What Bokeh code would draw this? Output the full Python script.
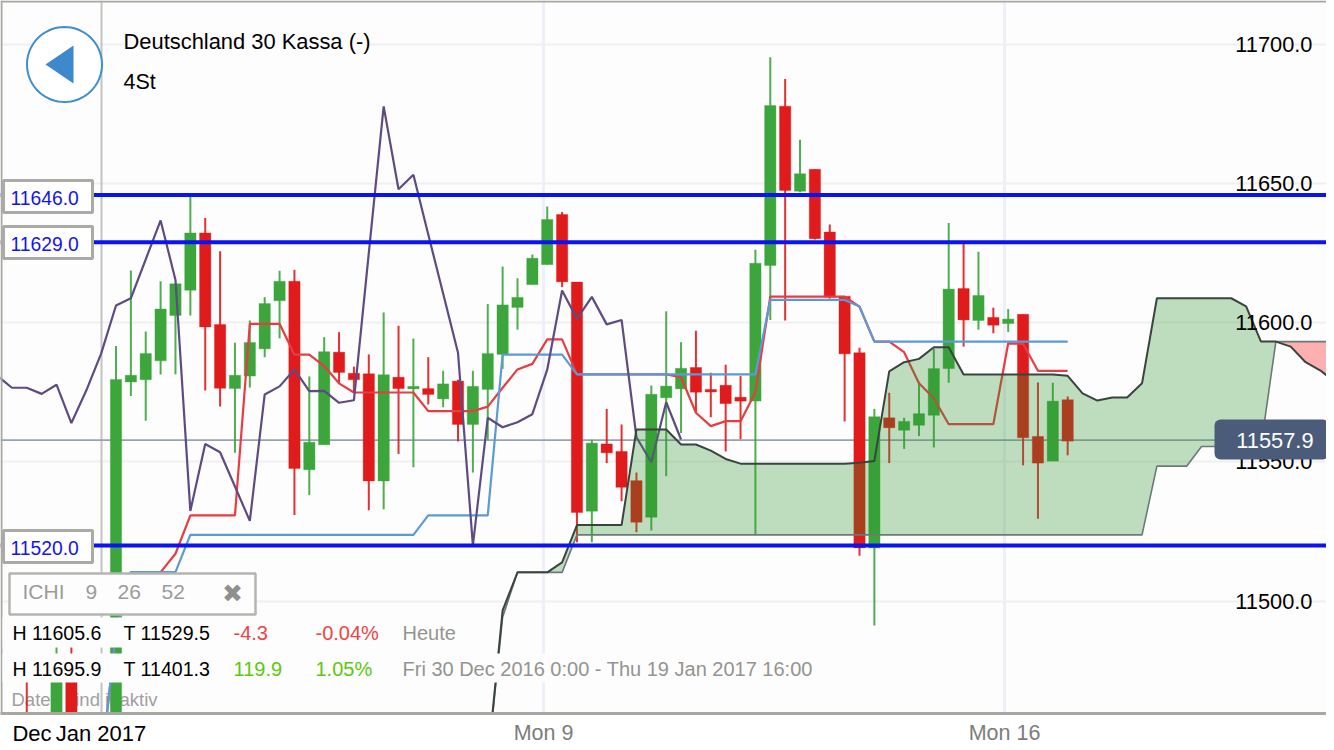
from bokeh.plotting import figure
from bokeh.embed import file_html
from bokeh.resources import INLINE
from bokeh.models import (ColumnDataSource, Range1d, LinearAxis, Grid, FixedTicker, Span, Label,
                          BoxAnnotation, PolyAnnotation, NumeralTickFormatter)
import math

FONT = "Liberation Sans"

# ---------- data (prices) ----------
candle_i = [-6, -4, -3] + list(range(0, 65))
open_ = [11449.8, 11442.6, 11474.3,
    11428.2, 11578.8, 11579.6, 11586.4, 11602.7, 11611.8, 11632.4, 11599.5, 11576.4, 11580.9,
    11590.7, 11608.0, 11615.0, 11547.2, 11556.2, 11589.5, 11581.9, 11581.7, 11543.2, 11580.5,
    11576.3, 11576.4, 11572.7, 11579.1, 11563.5, 11576.1, 11588.7, 11605.6, 11613.8, 11621.0,
    11639.0, 11614.7, 11532.3, 11556.5, 11553.8, 11543.3, 11530.1, 11573.1, 11576.3, 11584.0,
    11576.1, 11577.6, 11573.3, 11571.9, 11620.7, 11678.0, 11647.4, 11655.3, 11632.7, 11609.6,
    11589.3, 11519.1, 11565.9, 11561.4, 11563.2, 11566.8, 11583.6, 11612.4, 11600.9, 11602.0,
    11599.8, 11603.1, 11559.2, 11550.3, 11572.4]
high = [11476.8, 11489.4, 11489.4,
    11591.7, 11618.9, 11596.9, 11615.0, 11614.1, 11645.5, 11637.8, 11625.8, 11592.9, 11600.9,
    11609.3, 11618.8, 11619.1, 11580.8, 11594.9, 11596.7, 11584.3, 11588.7, 11603.8, 11599.0,
    11594.4, 11587.7, 11582.8, 11579.6, 11582.8, 11606.8, 11620.3, 11616.1, 11624.6, 11641.9,
    11639.9, 11614.7, 11558.0, 11569.1, 11563.5, 11546.2, 11577.5, 11604.2, 11593.1, 11597.2,
    11582.1, 11585.0, 11580.9, 11626.3, 11695.6, 11687.8, 11665.9, 11655.3, 11635.4, 11609.6,
    11591.1, 11569.1, 11574.9, 11565.9, 11578.7, 11590.7, 11636.0, 11628.8, 11625.6, 11605.5,
    11605.0, 11603.1, 11578.6, 11578.5, 11573.6]
low = [11435.4, 11439.0, 11437.2,
    11422.8, 11573.7, 11564.8, 11581.5, 11581.6, 11602.7, 11575.7, 11570.0, 11553.3, 11576.8,
    11587.7, 11594.5, 11530.9, 11538.1, 11556.2, 11578.2, 11575.1, 11532.6, 11533.0, 11552.9,
    11548.1, 11570.7, 11569.7, 11557.4, 11546.2, 11558.0, 11583.5, 11597.6, 11613.8, 11621.0,
    11612.9, 11521.1, 11521.1, 11549.6, 11535.9, 11524.7, 11525.4, 11544.9, 11560.4, 11567.9,
    11566.1, 11553.8, 11558.2, 11523.8, 11601.1, 11600.9, 11647.0, 11630.0, 11608.8, 11564.6,
    11516.3, 11491.2, 11549.6, 11554.7, 11559.3, 11555.2, 11578.5, 11591.5, 11597.6, 11596.3,
    11596.8, 11548.8, 11529.6, 11550.3, 11552.4]
close = [11442.6, 11475.0, 11440.8,
    11579.7, 11581.2, 11589.0, 11605.0, 11614.1, 11632.4, 11598.6, 11576.5, 11581.2, 11593.0,
    11607.0, 11615.0, 11547.7, 11557.1, 11589.7, 11582.2, 11579.6, 11543.2, 11581.4, 11576.4,
    11577.2, 11574.3, 11578.1, 11563.5, 11577.2, 11589.0, 11606.5, 11609.2, 11623.3, 11637.2,
    11614.8, 11531.8, 11556.8, 11553.3, 11540.9, 11528.3, 11574.4, 11577.3, 11583.7, 11575.1,
    11575.2, 11571.0, 11571.9, 11621.5, 11678.2, 11647.7, 11653.7, 11630.3, 11609.3, 11588.9,
    11519.1, 11566.3, 11562.3, 11564.6, 11567.4, 11583.6, 11612.2, 11601.1, 11609.9, 11599.2,
    11601.4, 11558.7, 11549.6, 11571.9, 11557.5]

chikou_i = list(range(-8, 39))
chikou = [11581.1, 11576.7, 11576.7, 11574.5, 11577.8, 11564.0, 11575.7, 11589.0, 11606.3, 11608.9,
    11622.9, 11636.9, 11615.5, 11532.4, 11556.5, 11553.5, 11541.2, 11528.8, 11574.3, 11577.2,
    11583.3, 11575.5, 11575.6, 11571.3, 11572.2, 11625.1, 11677.9, 11648.1, 11653.3, 11631.8,
    11610.6, 11589.3, 11520.0, 11565.9, 11562.5, 11564.3, 11567.2, 11583.2, 11611.7, 11601.5,
    11609.4, 11599.5, 11601.1, 11558.9, 11549.9, 11571.5, 11558.1]

line_i = list(range(-1, 65))
tenkan = [11440.8, 11488.7, 11510.4, 11510.4, 11510.4, 11517.0, 11530.8, 11530.8, 11530.8, 11530.8,
    11599.7, 11599.7, 11599.7, 11588.6, 11588.6, 11584.5, 11578.3, 11575.0, 11575.0, 11575.0,
    11575.0, 11575.0, 11568.3, 11568.3, 11568.3, 11568.3, 11569.9, 11576.7, 11583.3, 11585.3,
    11594.1, 11594.1, 11581.5, 11581.5, 11581.5, 11581.5, 11581.5, 11581.5, 11581.5, 11580.5,
    11567.7, 11562.9, 11564.7, 11564.7, 11575.1, 11609.5, 11609.5, 11609.5, 11609.5, 11609.5,
    11609.5, 11605.9, 11593.3, 11593.3, 11589.5, 11578.3, 11572.9, 11563.6, 11563.6, 11563.6,
    11563.6, 11592.7, 11592.5, 11582.8, 11582.8, 11582.8]
kijun = [11440.8, 11488.7, 11510.4, 11510.4, 11510.4, 11510.4, 11523.8, 11523.8, 11523.8, 11523.8,
    11523.8, 11523.8, 11523.8, 11523.8, 11523.8, 11523.8, 11523.8, 11523.8, 11523.8, 11523.8,
    11523.8, 11523.8, 11530.8, 11530.8, 11530.8, 11530.8, 11530.8, 11588.6, 11588.6, 11588.6,
    11588.6, 11588.6, 11581.5, 11581.5, 11581.5, 11581.5, 11581.5, 11581.5, 11581.5, 11581.5,
    11581.5, 11581.5, 11581.5, 11581.5, 11581.5, 11608.3, 11608.3, 11608.3, 11608.3, 11608.3,
    11608.3, 11605.9, 11593.3, 11593.3, 11593.3, 11593.3, 11593.3, 11593.3, 11593.3, 11593.3,
    11593.3, 11593.3, 11593.3, 11593.3, 11593.3, 11593.3]

senkou_i = list(range(25, 83))
senkou_a = [11442.3, 11496.6, 11510.3, 11510.3, 11510.3, 11513.9, 11527.3, 11527.3, 11527.3, 11527.3,
    11561.7, 11561.7, 11561.7, 11556.3, 11556.3, 11554.1, 11551.1, 11549.4, 11549.4, 11549.4,
    11549.4, 11549.4, 11549.4, 11549.4, 11549.4, 11549.7, 11550.4, 11582.6, 11585.9, 11587.1,
    11591.3, 11591.3, 11581.5, 11581.5, 11581.5, 11581.5, 11581.5, 11581.5, 11581.5, 11581.0,
    11574.7, 11572.1, 11573.2, 11573.2, 11578.3, 11608.9, 11608.9, 11608.9, 11608.9, 11608.9,
    11608.9, 11606.0, 11593.3, 11593.3, 11591.5, 11585.9, 11582.9, 11578.7]
senkou_b = [11441.6, 11494.2, 11510.3, 11510.3, 11510.3, 11510.3, 11523.8, 11523.8, 11523.8, 11523.8,
    11523.8, 11523.8, 11523.8, 11523.8, 11523.8, 11523.8, 11523.8, 11523.8, 11523.8, 11523.8,
    11523.8, 11523.8, 11523.8, 11523.8, 11523.8, 11523.8, 11523.8, 11523.8, 11523.8, 11523.8,
    11523.8, 11523.8, 11523.8, 11523.8, 11523.8, 11523.8, 11523.8, 11523.8, 11523.8, 11523.8,
    11523.8, 11523.8, 11523.8, 11523.8, 11523.8, 11548.5, 11548.5, 11548.5, 11555.6, 11555.6,
    11555.6, 11555.6, 11555.6, 11593.3, 11593.3, 11593.3, 11593.3, 11593.3]

level_values = [11646.0, 11629.0, 11520.0]
level_labels = ["11646.0", "11629.0", "11520.0"]
last_price = 11557.9
y_ticks = [11500, 11550, 11600, 11650, 11700]
week_ticks = {28.75: "Mon 9", 59.75: "Mon 16"}
month_ticks = {-5.65: "Dec", -1.01: "Jan 2017"}
title_text = "Deutschland 30 Kassa (-)"
period_text = "4St"

# ---------- reference picture -> data mapping (layout helpers) ----------
PX0, PXW = 115.5, 14.87
def xd(px): return (px - PX0) / PXW
def yd(py): return 11716.0 - 0.3597 * py

BG = "#fdfdfd"
GREEN, RED = "#3ca53c", "#e01b1b"
FRAME = "#a8a8a2"

p = figure(width=1326, height=742, frame_width=1326, frame_height=713,
           x_range=Range1d(xd(0), xd(1326)), y_range=Range1d(yd(713), yd(0)),
           x_axis_location=None, y_axis_location=None,
           output_backend="svg", toolbar_location=None, tools="",
           min_border=0, min_border_left=0, min_border_right=0, min_border_top=0, min_border_bottom=0,
           background_fill_color=BG, outline_line_color=None, border_fill_color="#ffffff")
p.grid.visible = False

# axes
xaxis = LinearAxis(ticker=FixedTicker(ticks=list(week_ticks)), major_label_overrides=week_ticks,
                   major_tick_line_color=None, minor_tick_line_color=None,
                   axis_line_color=FRAME, axis_line_width=3,
                   major_label_text_font=FONT, major_label_text_font_size="21.5px",
                   major_label_text_color="#7d7d7a", major_label_standoff=1)
p.add_layout(xaxis, "below")
month_axis = LinearAxis(ticker=FixedTicker(ticks=list(month_ticks)), major_label_overrides=month_ticks,
                        major_tick_line_color=None, minor_tick_line_color=None,
                        axis_line_color=None,
                        major_label_text_font=FONT, major_label_text_font_size="22px",
                        major_label_text_color="#000000", major_label_standoff=-33)
p.add_layout(month_axis, "below")
yaxis = LinearAxis(ticker=FixedTicker(ticks=y_ticks), formatter=NumeralTickFormatter(format="0.0"),
                   fixed_location=xd(1318), major_tick_line_color=None, minor_tick_line_color=None,
                   axis_line_color=None, major_label_standoff=0,
                   major_label_text_font=FONT, major_label_text_font_size="21.8px",
                   major_label_text_color="#000000")
p.add_layout(yaxis, "left")
p.add_layout(Grid(dimension=1, ticker=FixedTicker(ticks=y_ticks), grid_line_color="#f0f0f0", grid_line_width=2))
p.add_layout(Grid(dimension=0, ticker=FixedTicker(ticks=list(week_ticks)), grid_line_color="#edeff9", grid_line_width=3))

p.add_layout(Span(location=xd(101), dimension="height", line_color="#c4c4c2", line_width=2, level="underlay"))
p.add_layout(Span(location=last_price, dimension="width", line_color="#98a2b2", line_width=1.8, level="underlay"))
p.add_layout(Label(x=xd(11), y=yd(699), text="Daten sind inaktiv", text_font=FONT, text_font_size="18.5px",
                   text_color="#a0a0a0", text_baseline="middle", level="underlay"))

# candles
colors = [GREEN if c >= o else RED for o, c in zip(open_, close)]
cs = ColumnDataSource(dict(x=candle_i, o=open_, h=high, l=low, c=close, color=colors))
p.segment("x", "h", "x", "l", source=cs, line_color="color", line_width=2, line_alpha=0.9)
p.vbar("x", 0.76, "o", "c", source=cs, fill_color="color", line_color="color", line_alpha=0.35, line_width=1)

# ichimoku lines
p.line(line_i, tenkan, line_color="#e63d42", line_width=2.2)
p.line(line_i, kijun, line_color="#5b9bd5", line_width=2.2)
p.line(chikou_i, chikou, line_color="#5e4b82", line_width=2.2)

# cloud, drawn over the candles with alpha
split = senkou_i.index(78)
p.varea(senkou_i[:split + 1], senkou_b[:split + 1], senkou_a[:split + 1], fill_color="#309430", fill_alpha=0.3)
p.varea(senkou_i[split:], senkou_a[split:], senkou_b[split:], fill_color="#ff0000", fill_alpha=0.3)
p.line(senkou_i, senkou_b, line_color="#6d7976", line_width=1.6)
p.line(senkou_i, senkou_a, line_color="#39443f", line_width=2)

# horizontal level lines
for v in level_values:
    p.add_layout(Span(location=v, dimension="width", line_color="#0a14f0", line_width=4))

# frame left/top edges
p.add_layout(Span(location=xd(1), dimension="height", line_color=FRAME, line_width=2))
p.add_layout(Span(location=yd(1), dimension="width", line_color=FRAME, line_width=2))

def box(x0, y0, x1, y1, fill=BG, line=None, lw=0, **kw):
    p.add_layout(BoxAnnotation(left=xd(x0), right=xd(x1), top=yd(y0), bottom=yd(y1),
                               fill_color=fill, fill_alpha=1, line_color=line, line_width=lw,
                               line_alpha=1 if line else 0, **kw))

def label(px, py, text, size, color="#000000", align="left", font=FONT, **kw):
    p.add_layout(Label(x=xd(px), y=yd(py), text=text, text_font=font, text_font_size=size,
                       text_color=color, text_align=align, text_baseline="middle", **kw))

# strips behind the statistics rows
box(2, 617, 457, 647)
box(2, 653, 816, 682)

# price level tags
for lab, py0 in zip(level_labels, [180, 226, 530]):
    box(3, py0, 92, py0 + 32, fill="#ffffff", line="#aaaaa6", lw=3)
    label(10, py0 + 17.5, lab, "19.3px", "#1414f0")

# last price tag
box(1214, 419, 1328, 459, fill="#4b5c7b", border_radius=6)
label(1313, 439.5, "11557.9", "21.8px", "#ffffff", "right")

# ICHI box
box(9, 573, 255, 614, fill=BG, line="#b4b4b0", lw=2.5)
for px, t in zip([22, 85, 117, 161], ["ICHI", "9", "26", "52"]):
    label(px, 591, t, "21px", "#9b9b9b")
label(232, 593, "\u2716", "25px", "#8f8f8f", "center", font="DejaVu Sans")

# statistics
label(12, 632, "H 11605.6", "19.6px")
label(123, 632, "T 11529.5", "19.6px")
label(233, 632, "-4.3", "20px", "#ef4444")
label(315, 632, "-0.04%", "20px", "#ef4444")
label(402, 632, "Heute", "20px", "#949490")
label(12, 668, "H 11695.9", "19.6px")
label(123, 668, "T 11401.3", "19.6px")
label(233, 668, "119.9", "20px", "#5cc80f")
label(315, 668, "1.05%", "20px", "#5cc80f")
label(402, 668, "Fri 30 Dec 2016 0:00 - Thu 19 Jan 2017 16:00", "20px", "#949490")

# title
label(123, 41, title_text, "21.9px", background_fill_color=BG)
label(123, 81, period_text, "21.5px")

# back button
angles = [2 * math.pi * k / 72 for k in range(72)]
p.add_layout(PolyAnnotation(xs=[xd(64 + 37.5 * math.cos(a)) for a in angles],
                            ys=[yd(64 + 37.5 * math.sin(a)) for a in angles],
                            fill_color="#ffffff", fill_alpha=1, line_color="#3f8ecd", line_width=2, line_alpha=1))
p.add_layout(PolyAnnotation(xs=[xd(45), xd(73), xd(73)], ys=[yd(64), yd(45), yd(83)],
                            fill_color="#3d89cc", fill_alpha=1, line_alpha=0))

open("out.html", "w").write(file_html(p, INLINE))
